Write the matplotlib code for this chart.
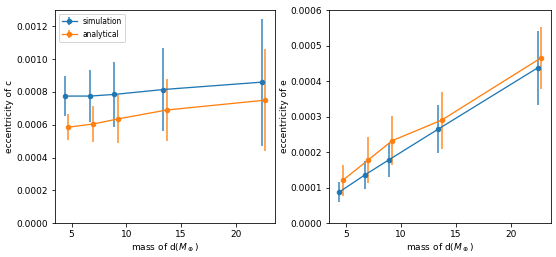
import numpy as np
import matplotlib.pyplot as plt

mass_sim = [4.4, 6.7, 8.9, 13.4, 22.4]
mass_ana = [4.7, 7.0, 9.2, 13.7, 22.7]

ecc_c_sim = [0.000775, 0.000775, 0.000785, 0.000815, 0.00086]
err_c_sim = [0.00012, 0.00016, 0.0002, 0.000255, 0.000387]
ecc_c_ana = [0.000585, 0.000605, 0.000635, 0.00069, 0.00075]
err_c_ana = [0.00008, 0.00011, 0.000145, 0.00019, 0.00031]

ecc_e_sim = [0.0000875, 0.000135, 0.000178, 0.000265, 0.000437]
err_e_sim = [0.000028, 0.00004, 0.000048, 0.000068, 0.000105]
ecc_e_ana = [0.00012, 0.000177, 0.000232, 0.00029, 0.000465]
err_e_ana = [0.000043, 0.000064, 0.000069, 0.00008, 0.000088]

plt.rcParams['font.size'] = 9

fig = plt.figure(figsize=(556 / 72, 257 / 72), dpi=72)
ax1 = fig.add_axes([0.099, 0.132, 0.396, 0.829])
ax2 = fig.add_axes([0.592, 0.132, 0.399, 0.829])

def draw(ax, ys, es, ya, ea):
	for x, y, e, lab in [(mass_sim, ys, es, 'simulation'), (mass_ana, ya, ea, 'analytical')]:
		eb = ax.errorbar(x, y, yerr=e, marker='o', ms=4.5, lw=1.3, elinewidth=1.6, label=lab)
		eb[2][0].set_alpha(0.85)
	ax.set_xlabel(r'mass of d($M_\oplus$)', labelpad=2)

draw(ax1, ecc_c_sim, err_c_sim, ecc_c_ana, err_c_ana)
ax1.set_ylim(0, 0.0013)
ax1.set_ylabel('eccentricity of c', labelpad=2)
ax1.legend(loc='upper left', fontsize=7.5)

draw(ax2, ecc_e_sim, err_e_sim, ecc_e_ana, err_e_ana)
ax2.set_ylim(0, 0.0006)
ax2.set_ylabel('eccentricity of e', labelpad=2)

fig.savefig('out.png', dpi=72)
